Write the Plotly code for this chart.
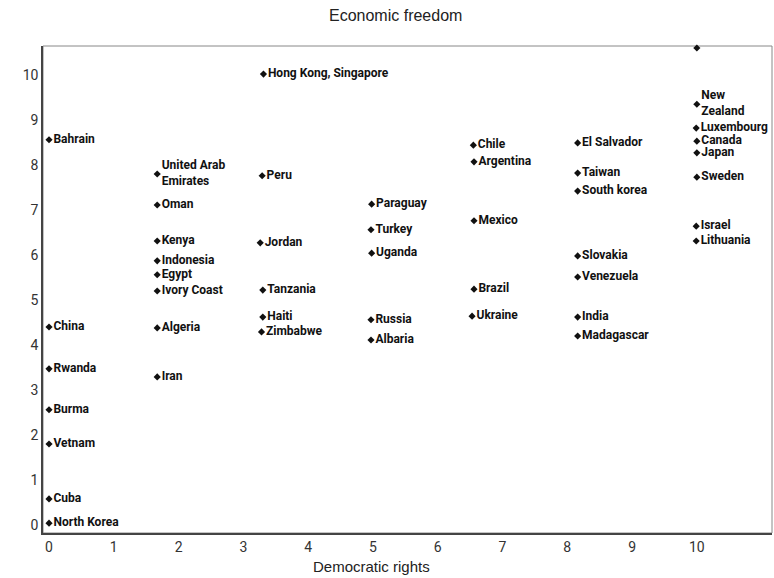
import plotly.graph_objects as go

countries = [
    "Bahrain", "China", "Rwanda", "Burma", "Vetnam", "Cuba", "North Korea",
    "United Arab<br>Emirates", "Oman", "Kenya", "Indonesia", "Egypt", "Ivory Coast", "Algeria", "Iran",
    "Hong Kong, Singapore", "Peru", "Jordan", "Tanzania", "Haiti", "Zimbabwe",
    "Paraguay", "Turkey", "Uganda", "Russia", "Albaria",
    "Chile", "Argentina", "Mexico", "Brazil", "Ukraine",
    "El Salvador", "Taiwan", "South korea", "Slovakia", "Venezuela", "India", "Madagascar",
    "", "New<br>Zealand", "Luxembourg", "Canada", "Japan", "Sweden", "Israel", "Lithuania",
]
democratic_rights = [
    0, 0, 0, 0, 0, 0, 0,
    1.67, 1.67, 1.67, 1.67, 1.67, 1.67, 1.67, 1.67,
    3.31, 3.29, 3.26, 3.3, 3.3, 3.28,
    4.98, 4.97, 4.98, 4.97, 4.97,
    6.55, 6.56, 6.56, 6.56, 6.53,
    8.16, 8.16, 8.16, 8.16, 8.16, 8.16, 8.16,
    10.0, 10.0, 9.99, 10.0, 10.0, 10.0, 9.99, 9.99,
]
economic_freedom = [
    8.56, 4.40, 3.47, 2.56, 1.80, 0.58, 0.04,
    7.80, 7.11, 6.31, 5.87, 5.56, 5.20, 4.38, 3.29,
    10.02, 7.76, 6.27, 5.22, 4.62, 4.29,
    7.13, 6.56, 6.04, 4.56, 4.11,
    8.44, 8.07, 6.76, 5.24, 4.64,
    8.49, 7.82, 7.42, 5.98, 5.51, 4.62, 4.20,
    10.6, 9.35, 8.82, 8.53, 8.27, 7.73, 6.64, 6.31,
]
x_ticks = [0, 1, 2, 3, 4, 5, 6, 7, 8, 9, 10]
y_ticks = [0, 1, 2, 3, 4, 5, 6, 7, 8, 9, 10]

label_font = "Roboto, Liberation Sans, sans-serif"

fig = go.Figure()
fig.add_trace(go.Scatter(
    x=democratic_rights, y=economic_freedom,
    mode="markers+text",
    text=countries,
    textposition="middle right",
    textfont=dict(family=label_font, size=12, color="#111", weight="bold"),
    marker=dict(symbol="diamond", size=5.5, color="#111"),
    cliponaxis=False,
    hoverinfo="skip",
))

fig.update_layout(
    width=774, height=578,
    margin=dict(l=43, r=2, t=46, b=45),
    paper_bgcolor="white", plot_bgcolor="white",
    showlegend=False,
    xaxis=dict(
        range=[-0.093, 11.16], tickvals=x_ticks, ticktext=[str(v) for v in x_ticks],
        showgrid=False, zeroline=False, showline=True, linecolor="#444", linewidth=1.5,
        ticks="", ticklabelstandoff=0,
        tickfont=dict(family=label_font, size=14, color="#333"),
    ),
    yaxis=dict(
        range=[-0.178, 10.644], tickvals=y_ticks, ticktext=[str(v) for v in y_ticks],
        showgrid=False, zeroline=False, showline=True, linecolor="#444", linewidth=1.5,
        ticks="", ticklabelstandoff=0,
        tickfont=dict(family=label_font, size=14, color="#333"),
    ),
    shapes=[dict(type="rect", xref="paper", yref="paper", x0=0, x1=1, y0=0, y1=1,
                 line=dict(color="#888", width=1), layer="below")],
    annotations=[
        dict(text="Economic freedom", xref="paper", yref="paper", x=0.484, y=1.062,
             showarrow=False, xanchor="center", yanchor="middle",
             font=dict(family="Liberation Sans, Arial, sans-serif", size=16, color="#222")),
        dict(text="Democratic rights", xref="paper", yref="paper", x=0.451, y=-0.068,
             showarrow=False, xanchor="center", yanchor="middle",
             font=dict(family="Liberation Sans, Arial, sans-serif", size=15, color="#222")),
    ],
)

fig.write_html(
    "out.html",
    config={"displayModeBar": False},
    post_script="document.body.style.margin='0';document.body.style.overflow='hidden';",
)
